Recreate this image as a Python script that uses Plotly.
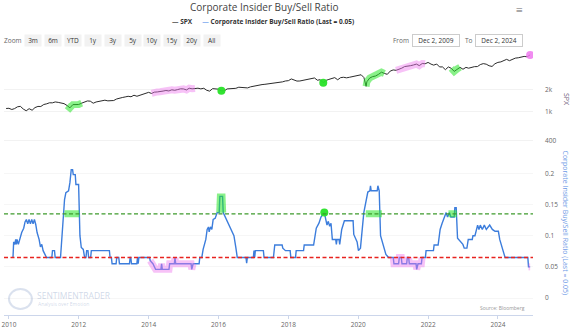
import pandas as pd
import plotly.graph_objects as go

# ---------------------------------------------------------------- data
# S&P 500: first print of the window, month-end closes Dec 2009 .. Nov 2024
spx_first_date, spx_first_value = "2009-12-02", 1109
spx_monthly = [
    1115,
    1074, 1104, 1169, 1187, 1089, 1031, 1102, 1049, 1141, 1183, 1181, 1258,
    1286, 1327, 1326, 1364, 1345, 1321, 1292, 1219, 1131, 1253, 1247, 1258,
    1312, 1366, 1408, 1398, 1310, 1362, 1379, 1407, 1441, 1412, 1416, 1426,
    1498, 1515, 1569, 1598, 1631, 1606, 1686, 1633, 1682, 1757, 1806, 1848,
    1783, 1859, 1872, 1884, 1924, 1960, 1931, 2003, 1972, 2018, 2068, 2059,
    1995, 2105, 2068, 2086, 2107, 2063, 2104, 1972, 1920, 2079, 2080, 2044,
    1940, 1932, 2060, 2065, 2097, 2099, 2174, 2171, 2168, 2126, 2199, 2239,
    2279, 2364, 2363, 2384, 2412, 2423, 2470, 2472, 2519, 2575, 2648, 2674,
    2824, 2714, 2641, 2648, 2705, 2718, 2816, 2902, 2914, 2712, 2760, 2507,
    2704, 2784, 2834, 2946, 2752, 2942, 2980, 2926, 2977, 3038, 3141, 3231,
    3226, 2954, 2585, 2912, 3044, 3100, 3271, 3500, 3363, 3270, 3622, 3756,
    3714, 3811, 3973, 4181, 4204, 4298, 4395, 4523, 4308, 4605, 4567, 4766,
    4516, 4374, 4530, 4132, 4132, 3785, 4130, 3955, 3586, 3872, 4080, 3840,
    4077, 3970, 4109, 4169, 4180, 4450, 4589, 4508, 4288, 4194, 4568, 4770,
    4846, 5096, 5254, 5036, 5278, 5460, 5522, 5648, 5762, 5705, 6032,
]
spx_extra_dates = ["2020-03-23", "2024-12-02"]
spx_extra_values = [2237, 6047]

# Corporate insider buy/sell ratio (weekly readings)
ratio_dates = [
    "2010-02-12", "2010-02-19", "2010-03-05", "2010-03-12", "2010-03-19", "2010-03-26",
    "2010-04-09", "2010-04-23", "2010-05-14", "2010-06-04", "2010-06-18", "2010-07-02",
    "2010-07-16", "2010-07-30", "2010-08-13", "2010-08-27", "2010-09-10", "2010-09-24",
    "2010-10-08", "2010-10-22", "2010-11-12", "2010-11-26", "2010-12-10", "2010-12-24",
    "2011-01-14", "2011-01-28", "2011-03-25", "2011-04-01", "2011-04-22", "2011-04-29",
    "2011-06-24", "2011-07-15", "2011-08-05", "2011-08-19", "2011-09-16", "2011-09-30",
    "2011-10-14", "2011-10-28", "2011-11-04", "2011-11-25", "2011-12-02", "2011-12-30",
    "2012-01-13", "2012-01-27", "2012-02-17", "2012-03-02", "2012-03-16", "2012-03-23",
    "2012-04-06", "2012-04-13", "2012-05-04", "2012-05-11", "2012-11-16", "2012-11-23",
    "2012-12-07", "2012-12-14", "2013-01-25", "2013-02-01", "2013-02-22", "2013-03-01",
    "2013-06-14", "2013-06-21", "2013-06-28", "2013-07-05", "2013-08-30", "2013-09-06",
    "2013-09-13", "2013-09-20", "2014-01-10",
    "2014-01-17", "2014-02-14", "2014-03-14", "2014-05-09", "2014-05-16", "2014-05-23",
    "2014-08-01", "2014-08-08", "2014-09-26", "2014-10-03", "2014-10-10", "2015-03-20",
    "2015-03-27", "2015-04-10", "2015-06-12", "2015-06-19", "2015-07-10", "2015-07-24",
    "2015-08-21", "2015-09-04", "2015-09-18", "2015-09-25", "2015-10-09", "2015-10-23",
    "2015-11-06", "2015-11-27", "2015-12-18", "2016-01-08", "2016-01-15", "2016-02-12",
    "2016-02-19", "2016-03-11", "2016-03-25", "2016-04-15", "2016-05-13", "2016-06-10",
    "2016-07-01", "2016-07-15", "2016-10-14", "2016-10-21", "2016-10-28", "2016-12-30",
    "2017-01-06", "2017-01-13", "2017-01-20", "2017-04-14", "2017-04-21",
    "2017-07-28", "2017-08-11", "2017-10-27", "2017-11-03", "2017-12-01", "2018-01-19",
    "2018-01-26", "2018-03-16", "2018-03-23", "2018-06-08", "2018-06-15", "2018-09-21",
    "2018-10-19", "2018-11-16", "2018-12-07", "2019-01-11", "2019-01-25", "2019-02-08",
    "2019-02-22", "2019-03-08", "2019-03-22", "2019-04-05", "2019-05-10", "2019-05-17",
    "2019-05-24", "2019-06-14", "2019-06-21", "2019-06-28", "2019-07-12", "2019-08-09",
    "2019-11-08", "2019-11-15", "2019-12-20", "2020-01-03", "2020-01-24", "2020-02-28",
    "2020-03-27", "2020-04-10", "2020-05-01", "2020-05-08", "2020-05-15", "2020-07-17",
    "2020-07-24", "2020-08-07", "2020-08-21", "2020-09-18", "2020-10-16", "2020-11-13",
    "2021-01-01", "2021-01-08", "2021-02-26", "2021-03-05", "2021-03-26", "2021-04-02",
    "2021-05-21", "2021-05-28", "2021-06-11", "2021-06-18", "2021-08-27", "2021-09-03",
    "2021-09-17", "2021-10-22", "2021-10-29", "2021-12-03", "2021-12-10", "2022-02-25",
    "2022-03-04", "2022-04-15", "2022-05-06", "2022-05-27", "2022-06-17", "2022-07-08",
    "2022-07-22", "2022-08-12", "2022-08-26", "2022-09-30", "2022-10-07", "2022-10-21",
    "2022-11-04", "2022-12-02", "2022-12-30", "2023-01-13", "2023-02-10", "2023-02-24",
    "2023-04-07", "2023-04-14", "2023-05-05", "2023-06-02", "2023-06-16", "2023-06-30",
    "2023-07-21", "2023-08-11", "2023-09-01", "2023-10-06", "2023-11-03", "2023-12-01",
    "2024-01-05", "2024-01-19", "2024-02-16", "2024-03-15", "2024-11-08", "2024-11-15",
    "2024-12-02",
]
ratio_values = [
    0.065, 0.090, 0.086, 0.094, 0.086, 0.094,
    0.086, 0.094, 0.105, 0.112, 0.122, 0.126,
    0.119, 0.126, 0.119, 0.126, 0.119, 0.126,
    0.118, 0.105, 0.094, 0.082, 0.086, 0.076,
    0.070, 0.065, 0.065, 0.076, 0.076, 0.065,
    0.065, 0.110, 0.158, 0.169, 0.172, 0.185,
    0.206, 0.206, 0.198, 0.198, 0.182, 0.182,
    0.100, 0.081, 0.078, 0.065, 0.065, 0.076,
    0.076, 0.065, 0.065, 0.076, 0.076, 0.065,
    0.065, 0.055, 0.055, 0.065, 0.065, 0.055,
    0.055, 0.065, 0.065, 0.055, 0.055, 0.065,
    0.055, 0.065, 0.065,
    0.060, 0.055, 0.046, 0.046, 0.055, 0.046,
    0.046, 0.055, 0.055, 0.065, 0.055, 0.055,
    0.046, 0.055, 0.055, 0.065, 0.065, 0.078,
    0.094, 0.110, 0.114, 0.106, 0.114, 0.110,
    0.126, 0.128, 0.137, 0.137, 0.163, 0.163,
    0.137, 0.130, 0.125, 0.120, 0.110, 0.100,
    0.080, 0.065, 0.065, 0.056, 0.065, 0.065,
    0.076, 0.065, 0.076, 0.076, 0.065,
    0.065, 0.085, 0.085, 0.080, 0.076, 0.076,
    0.065, 0.065, 0.076, 0.076, 0.085, 0.085,
    0.112, 0.120, 0.130, 0.137, 0.125, 0.117,
    0.123, 0.115, 0.120, 0.094, 0.094, 0.086,
    0.094, 0.094, 0.086, 0.094, 0.110, 0.124,
    0.124, 0.102, 0.090, 0.076, 0.080, 0.137,
    0.158, 0.170, 0.172, 0.180, 0.172, 0.172,
    0.180, 0.172, 0.100, 0.085, 0.070, 0.065,
    0.065, 0.055, 0.055, 0.065, 0.065, 0.055,
    0.055, 0.065, 0.065, 0.055, 0.055, 0.046,
    0.055, 0.055, 0.065, 0.065, 0.076, 0.076,
    0.085, 0.085, 0.110, 0.120, 0.130, 0.137,
    0.130, 0.137, 0.130, 0.130, 0.145, 0.145,
    0.096, 0.090, 0.086, 0.080, 0.080, 0.094,
    0.094, 0.100, 0.100, 0.117, 0.110, 0.117,
    0.110, 0.117, 0.110, 0.117, 0.110, 0.107,
    0.107, 0.094, 0.080, 0.065, 0.065, 0.050,
    0.050,
]

buy_level = 0.135
sell_level = 0.065
last_ratio = 0.05

# signal windows on the SPX panel
spx_buy_start = ["2011-08-31", "2016-01-31", "2018-12-31", "2020-03-23", "2022-08-31"]
spx_buy_end = ["2012-01-31", "2016-01-31", "2018-12-31", "2020-09-30", "2022-11-30"]
spx_sell_start = ["2014-01-31", "2021-01-31", "2024-12-02"]
spx_sell_end = ["2015-04-30", "2021-11-30", "2024-12-02"]

# signal windows on the ratio panel (level None -> follow the ratio line)
ratio_buy_start = ["2011-08-05", "2016-01-08", "2019-01-11", "2020-03-20", "2022-08-01"]
ratio_buy_end = ["2012-01-06", "2016-02-19", "2019-01-11", "2020-09-04", "2022-10-28"]
ratio_buy_band = [buy_level, None, None, buy_level, buy_level]
ratio_sell_start = ["2014-01-17", "2021-01-01", "2024-11-15"]
ratio_sell_end = ["2015-04-17", "2021-11-05", "2024-12-02"]

x_ticks = ["2010", "2012", "2014", "2016", "2018", "2020", "2022", "2024"]
zoom_buttons = ["3m", "6m", "YTD", "1y", "3y", "5y", "10y", "15y", "20y", "All"]

# ---------------------------------------------------------------- series
try:
    month_ends = pd.date_range("2009-12-31", periods=len(spx_monthly), freq="ME")
except ValueError:
    month_ends = pd.date_range("2009-12-31", periods=len(spx_monthly), freq="M")
spx = pd.Series(spx_monthly, index=month_ends)
spx[pd.Timestamp(spx_first_date)] = spx_first_value
for d, v in zip(spx_extra_dates, spx_extra_values):
    spx[pd.Timestamp(d)] = v
spx = spx.sort_index()

ratio = pd.Series(ratio_values, index=pd.to_datetime(ratio_dates))

# ---------------------------------------------------------------- layout geometry (px)
W, H = 575, 331
L, R, T, B = 2, 533, 50, 316


def px(xp):
    return (xp - L) / (R - L)


def py(yp):
    return (B - yp) / (B - T)


GREEN_HL = "rgba(40,230,40,0.55)"
PINK_HL = "rgba(238,120,238,0.45)"
FONT = "Open Sans"

fig = go.Figure()

# --- SPX panel
fig.add_trace(go.Scatter(x=spx.index, y=spx.values, mode="lines",
                         line=dict(color="#2b2b2b", width=1), yaxis="y",
                         hoverinfo="skip", showlegend=False))


def window(series, start, end):
    return series[(series.index >= pd.Timestamp(start)) & (series.index <= pd.Timestamp(end))]


for starts, ends, color, dot in ((spx_buy_start, spx_buy_end, GREEN_HL, "rgba(40,225,40,0.95)"),
                                 (spx_sell_start, spx_sell_end, PINK_HL, "rgba(238,120,238,0.85)")):
    for s, e in zip(starts, ends):
        seg = window(spx, s, e)
        if len(seg) == 1:
            fig.add_trace(go.Scatter(x=seg.index, y=seg.values, mode="markers",
                                     marker=dict(color=dot, size=8),
                                     yaxis="y", hoverinfo="skip", showlegend=False))
        else:
            fig.add_trace(go.Scatter(x=seg.index, y=seg.values, mode="lines",
                                     line=dict(color=color, width=7), yaxis="y",
                                     hoverinfo="skip", showlegend=False))

# --- ratio panel
fig.add_trace(go.Scatter(x=ratio.index, y=ratio.values, mode="lines",
                         line=dict(color="#3c7ddc", width=1.4), yaxis="y2",
                         hoverinfo="skip", showlegend=False))

for s, e, band in zip(ratio_buy_start, ratio_buy_end, ratio_buy_band):
    if band is not None:
        fig.add_trace(go.Scatter(x=[s, e], y=[band, band], mode="lines",
                                 line=dict(color=GREEN_HL, width=7), yaxis="y2",
                                 hoverinfo="skip", showlegend=False))
    else:
        seg = window(ratio, s, e)
        if len(seg) == 1:
            fig.add_trace(go.Scatter(x=seg.index, y=seg.values, mode="markers",
                                     marker=dict(color="rgba(40,225,40,0.95)", size=8),
                                     yaxis="y2", hoverinfo="skip", showlegend=False))
        else:
            fig.add_trace(go.Scatter(x=seg.index, y=seg.values, mode="lines",
                                     line=dict(color=GREEN_HL, width=6), yaxis="y2",
                                     hoverinfo="skip", showlegend=False))

for s, e in zip(ratio_sell_start, ratio_sell_end):
    seg = window(ratio, s, e)
    fig.add_trace(go.Scatter(x=seg.index, y=seg.values, mode="lines",
                             line=dict(color=PINK_HL, width=7), yaxis="y2",
                             hoverinfo="skip", showlegend=False))

# threshold lines
for level, color in ((buy_level, "#3e9a2c"), (sell_level, "#e8231f")):
    fig.add_shape(type="line", xref="x domain", yref="y2", x0=0, x1=1, y0=level, y1=level,
                  line=dict(color=color, width=1.3, dash="4px,2.5px"))

# ---------------------------------------------------------------- annotations
ann = []
ann.append(dict(x=px(263), y=py(7), text="Corporate Insider Buy/Sell Ratio",
                font=dict(size=10, color="#444")))
ann.append(dict(x=px(262), y=py(21),
                text="<b><span style='color:#5a5a5a'>—</span> SPX</b>      "
                     "<b><span style='color:#86aef0'>—</span> Corporate Insider Buy/Sell Ratio "
                     f"(Last = {last_ratio:.2f})</b>",
                font=dict(size=6.5, color="#333")))
ann.append(dict(x=px(519), y=py(9), text="≡", font=dict(size=12, color="#666")))

ann.append(dict(x=px(11), y=py(40), text="Zoom", font=dict(size=6.5, color="#666")))
for i, label in enumerate(zoom_buttons):
    ann.append(dict(x=px(31 + 20 * i), y=py(40), text=label,
                    font=dict(size=6.5, color="#333"),
                    bgcolor="#f2f2f2", width=14, height=9, borderpad=1))
ann.append(dict(x=px(400), y=py(40), text="From", font=dict(size=6.5, color="#666")))
ann.append(dict(x=px(436), y=py(40), text="Dec 2, 2009", font=dict(size=6.5, color="#333"),
                bgcolor="white", bordercolor="#cccccc", borderwidth=1,
                width=44, height=9, borderpad=1))
ann.append(dict(x=px(469), y=py(40), text="To", font=dict(size=6.5, color="#666")))
ann.append(dict(x=px(499), y=py(40), text="Dec 2, 2024", font=dict(size=6.5, color="#333"),
                bgcolor="white", bordercolor="#cccccc", borderwidth=1,
                width=44, height=9, borderpad=1))

# axis titles on the right
ann.append(dict(x=px(566), y=py(100), text="SPX", textangle=90,
                font=dict(size=7, color="#6d5a78")))
ann.append(dict(x=px(566), y=py(224), text=f"Corporate Insider Buy/Sell Ratio (Last = {last_ratio:.2f})",
                textangle=90, font=dict(size=7, color="#6f9be6")))

# watermark and source
ann.append(dict(x=px(33), y=py(296), xanchor="left", text="SENTIMENTRADER",
                font=dict(size=8.5, color="rgba(150,170,205,0.45)")))
ann.append(dict(x=px(34), y=py(305), xanchor="left", text="Analysis over Emotion",
                font=dict(size=5, color="rgba(150,170,205,0.45)")))
ann.append(dict(x=px(527), y=py(309), xanchor="right", text="Source: Bloomberg",
                font=dict(size=5, color="#999")))

for a in ann:
    a.setdefault("xref", "paper")
    a.setdefault("yref", "paper")
    a.setdefault("xanchor", "center")
    a.setdefault("yanchor", "middle")
    a.setdefault("showarrow", False)

# faint logo mark
fig.add_shape(type="circle", xref="paper", yref="paper",
              x0=px(7), x1=px(30), y0=py(310), y1=py(290),
              line=dict(color="rgba(150,170,205,0.35)", width=2))

fig.update_layout(
    width=W, height=H,
    margin=dict(l=L, r=W - R, t=T, b=H - B),
    paper_bgcolor="white", plot_bgcolor="white",
    font=dict(family=FONT, color="#666"),
    showlegend=False,
    annotations=ann,
    xaxis=dict(type="date", range=["2009-11-10", "2025-01-01"],
               tickvals=[f"{y}-01-01" for y in x_ticks], ticktext=x_ticks,
               tickfont=dict(size=6.5, color="#666"), showgrid=False,
               showline=True, linecolor="#ccd6eb", linewidth=1,
               ticks="outside", ticklen=3, tickcolor="#ccd6eb",
               ticklabeloverflow="allow",
               anchor="y2", zeroline=False),
    yaxis=dict(type="log", domain=[py(143), 1], range=[2.575, 3.849],
               side="right", tickvals=[400, 1000, 2000], ticktext=["400", "1k", "2k"],
               tickfont=dict(size=6.5, color="#666"), showgrid=True, gridcolor="#f2f2f2",
               zeroline=False, anchor="x", ticklabelstandoff=11),
    yaxis2=dict(domain=[0, py(147)], range=[-0.0272, 0.2428], side="right",
                tickvals=[0, 0.05, 0.1, 0.15, 0.2], ticktext=["0", "0.05", "0.1", "0.15", "0.2"],
                tickfont=dict(size=6.5, color="#666"), showgrid=True, gridcolor="#f6f6f6",
                zeroline=False, anchor="x", ticklabelstandoff=11),
)

fig.write_html("out.html")
